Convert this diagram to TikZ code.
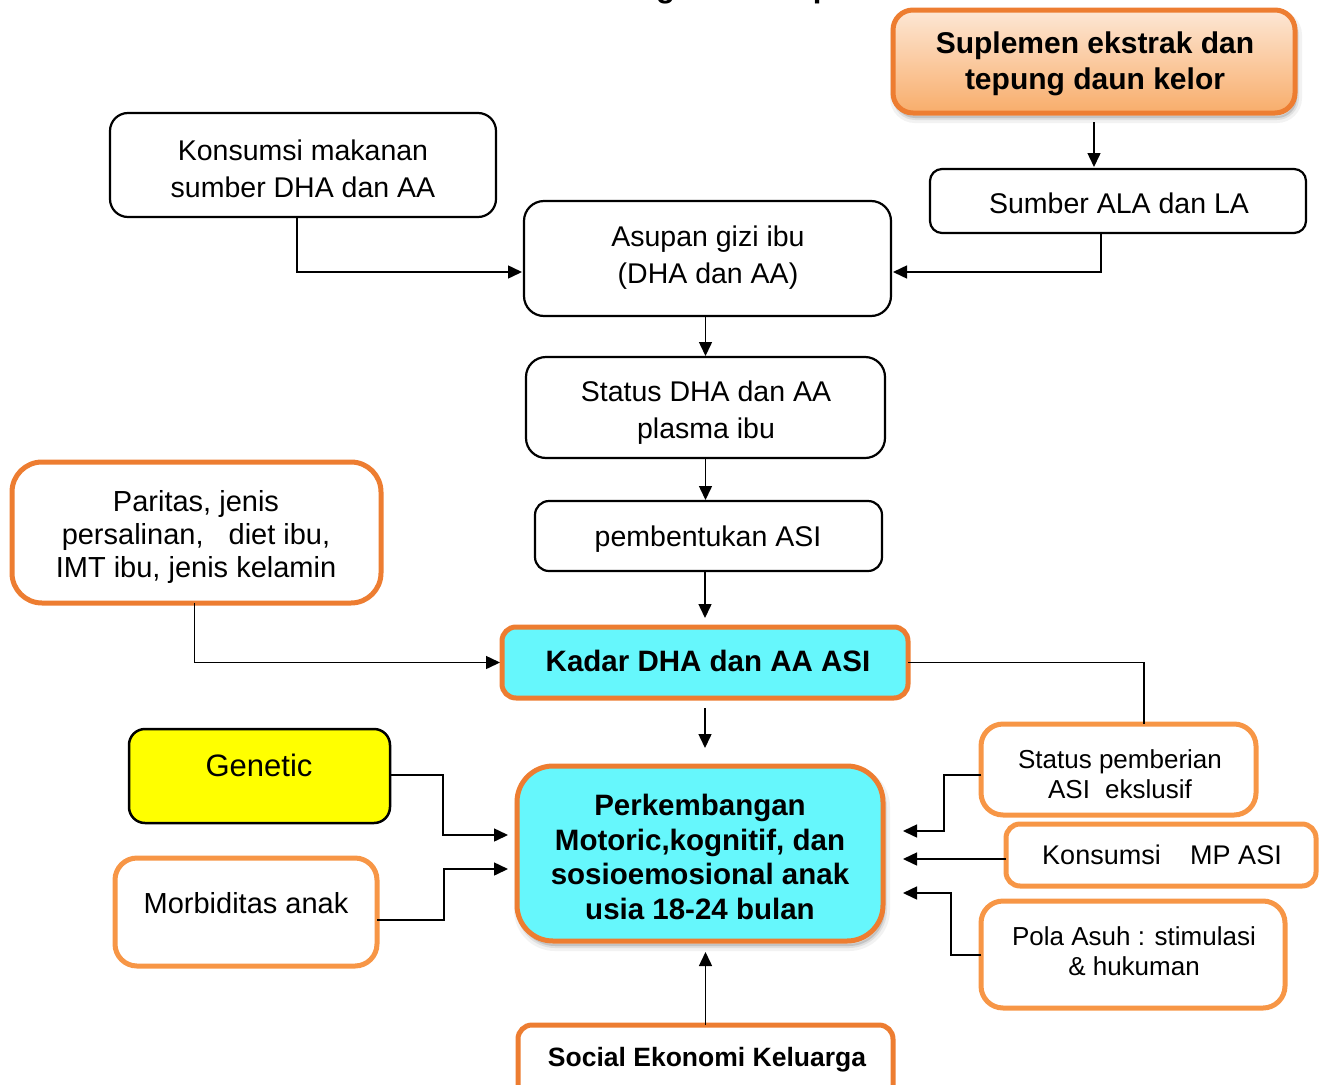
\documentclass[tikz,border=0pt]{standalone}
\usepackage{fontspec}
\setmainfont{Liberation Sans}
\usetikzlibrary{arrows.meta,shadows}

\definecolor{orDark}{HTML}{ED7D31}
\definecolor{orLight}{HTML}{F79646}
\definecolor{cyanFill}{HTML}{66F7FC}
\definecolor{supTop}{HTML}{FDE7D5}
\definecolor{supBot}{HTML}{F8AD6B}
\definecolor{yelFill}{HTML}{FFFF00}

\begin{document}
\begin{tikzpicture}[x=1pt,y=-1pt,
  every node/.style={inner sep=0pt,outer sep=0pt},
  blkbox/.style={draw=black,line width=2.2pt,fill=white},
  hotbox/.style={draw=orDark,line width=5pt},
  warmbox/.style={draw=orLight,line width=5pt,fill=white},
  txt/.style={align=center},
  fReg/.style={font=\fontsize{28.5}{37}\selectfont},
  fSmall/.style={font=\fontsize{26}{30}\selectfont},
  fHeavy/.style={font=\bfseries\fontsize{29.5}{34.5}\selectfont},
  conn/.style={line width=1.5pt},
  arr/.style={conn,-{Triangle[length=14pt,width=13pt]}},
  softshadow/.style={
    drop shadow={shadow xshift=2pt,shadow yshift=-5pt,opacity=0.05,draw=black,line width=10pt,fill=black},
    drop shadow={shadow xshift=2pt,shadow yshift=-5pt,opacity=0.08,draw=black,line width=4pt,fill=black}},
]
\useasboundingbox (0,0) rectangle (1322,1084);

% title, mostly above the page edge
\node[anchor=base,font=\bfseries\fontsize{31}{36}\selectfont] (title) at (700,-2) {Kerangka Konsep};

% ---- upper chain ----
\node[hotbox,top color=supTop,bottom color=supBot,rounded corners=20pt,
      minimum width=402pt,minimum height=103pt,softshadow] (suplemen) at (1094,61.5) {};
\node[txt,font=\bfseries\fontsize{30}{36}\selectfont] (suplemen-t) at (1095,64) {Suplemen ekstrak dan\\tepung daun kelor};

\node[blkbox,rounded corners=18pt,minimum width=386pt,minimum height=104pt] (konsumsi) at (303,165) {};
\node[txt,fReg] (konsumsi-t) at (303,169) {Konsumsi makanan\\sumber DHA dan AA};

\node[blkbox,rounded corners=12pt,minimum width=376pt,minimum height=64pt] (sumber) at (1118,201) {};
\node[txt,fReg] (sumber-t) at (1119,203) {Sumber ALA dan LA};

\node[blkbox,rounded corners=20pt,minimum width=367pt,minimum height=115pt] (asupan) at (707.5,258.5) {};
\node[txt,fReg] (asupan-t) at (708,258) {Asupan gizi ibu\\(DHA dan AA)};

\node[blkbox,rounded corners=20pt,minimum width=359pt,minimum height=101pt] (plasma) at (705.5,407.5) {};
\node[txt,fReg] (plasma-t) at (706,413) {Status DHA dan AA\\plasma ibu};

\node[blkbox,rounded corners=14pt,minimum width=347pt,minimum height=70pt] (pembentukan) at (708.5,536) {};
\node[txt,fReg] (pembentukan-t) at (708,539) {pembentukan ASI};

% ---- milk level ----
\node[warmbox,draw=orDark,rounded corners=30pt,minimum width=369pt,minimum height=141pt] (paritas) at (196.5,532.5) {};
\node[txt,font=\fontsize{29}{33}\selectfont] (paritas-t) at (196,537) {Paritas, jenis\\persalinan,\hspace{17pt} diet ibu,\\IMT ibu, jenis kelamin};

\node[hotbox,fill=cyanFill,rounded corners=14pt,minimum width=406pt,minimum height=71pt] (kadar) at (705,662.5) {};
\node[txt,fHeavy] (kadar-t) at (708,660.5) {Kadar DHA dan AA ASI};

% ---- outcome and its factors ----
\node[hotbox,fill=cyanFill,rounded corners=36pt,minimum width=366pt,minimum height=175pt,softshadow] (perk) at (700,853.5) {};
\node[txt,fHeavy] (perk-t) at (700,857) {Perkembangan\\Motoric,kognitif, dan\\sosioemosional anak\\usia 18-24 bulan};

\node[blkbox,fill=yelFill,line width=2.5pt,rounded corners=16pt,minimum width=261pt,minimum height=94pt] (genetic) at (259.5,776) {};
\node[txt,font=\fontsize{31}{36}\selectfont] (genetic-t) at (259,765) {Genetic};

\node[warmbox,rounded corners=22pt,minimum width=262pt,minimum height=108pt] (morb) at (246,912) {};
\node[txt,font=\fontsize{29}{34}\selectfont] (morb-t) at (246,903) {Morbiditas anak};

\node[hotbox,fill=white,rounded corners=14pt,minimum width=375pt,minimum height=100pt] (social) at (705.5,1075) {};
\node[txt,font=\bfseries\fontsize{26.5}{30}\selectfont] (social-t) at (707,1060) {Social Ekonomi Keluarga};

\node[warmbox,rounded corners=22pt,minimum width=275pt,minimum height=91pt] (asiex) at (1118.5,769.5) {};
\node[txt,fSmall] (asiex-t) at (1120,774) {Status pemberian\\ASI\hspace{8pt} ekslusif};

\node[warmbox,rounded corners=14pt,minimum width=310pt,minimum height=62pt] (mpasi) at (1161,855) {};
\node[txt,font=\fontsize{27}{30}\selectfont] (mpasi-t) at (1162,855) {Konsumsi\hspace{22pt} MP ASI};

\node[warmbox,rounded corners=22pt,minimum width=304pt,minimum height=107pt] (pola) at (1133,954.5) {};
\node[txt,fSmall] (pola-t) at (1134,951) {Pola Asuh : stimulasi\\\& hukuman};

% ---- connectors ----
\draw[arr] ([yshift=-9pt]suplemen.south) -- ([yshift=2pt]sumber.north -| suplemen.south);
\draw[arr] ([xshift=-6pt]konsumsi.south) |- ([xshift=-2pt,yshift=-13.5pt]asupan.west);
\draw[arr] ([xshift=-17pt]sumber.south) |- ([xshift=2pt,yshift=-13.5pt]asupan.east);
\draw[arr] (plasma.north |- asupan.south) -- ([yshift=1pt]plasma.north);
\draw[arr] (plasma.south) -- ([yshift=1pt]plasma.south |- pembentukan.north);
\draw[arr] (pembentukan.south -| kadar.north) -- ([yshift=9pt]kadar.north);
\draw[arr] ([xshift=-2pt]paritas.south) |- ([xshift=-2pt]kadar.west);
\draw[conn] (kadar.east) -| ([xshift=25.5pt]asiex.north);
\draw[arr] ([yshift=-10pt]kadar.south) -- ([yshift=18pt]perk.north -| kadar.south);

\draw[arr] ([yshift=1pt]genetic.east) -- ++(53,0) |- ([xshift=-9pt,yshift=18.5pt]perk.west);
\draw[arr] ([yshift=-8pt]morb.east) -- ++(67,0) |- ([xshift=-9pt,yshift=-15.5pt]perk.west);
\draw[arr] ([yshift=-5.5pt]asiex.west) -- ++(-37,0) |- ([xshift=20pt,yshift=22.5pt]perk.east);
\draw[arr] ([yshift=-4pt]mpasi.west) -- ([xshift=20pt,yshift=-5.5pt]perk.east);
\draw[arr] ([yshift=-0.5pt]pola.west) -- ++(-30,0) |- ([xshift=20pt,yshift=-39.5pt]perk.east);
\draw[arr] (social.north) -- ([yshift=-11pt]perk.south -| social.north);
\end{tikzpicture}
\end{document}
